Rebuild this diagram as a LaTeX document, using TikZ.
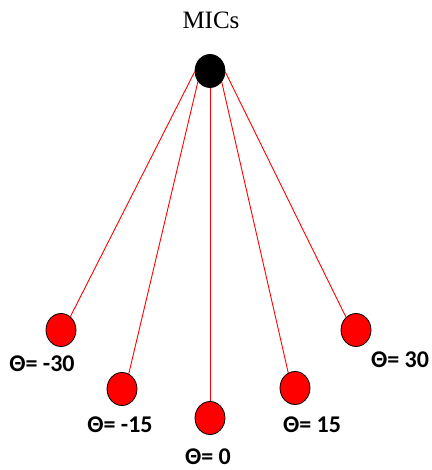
\documentclass[tikz,border=0pt]{standalone}
\usepackage{fontspec}
\setmainfont{Liberation Serif}
\newfontfamily\lblfont{Carlito}
\usetikzlibrary{shapes.geometric}

\begin{document}
\begin{tikzpicture}[
    x=1pt,y=-1pt,
    every node/.style={ellipse, draw=black, line width=0.8pt, minimum width=30pt, minimum height=33pt, inner sep=0pt},
    src/.style={fill=red},
    edge/.style={red, line width=0.9pt},
    lbl/.style={draw=none, minimum width=0pt, minimum height=0pt, font=\lblfont\bfseries\fontsize{24}{28}\selectfont}
]
    \useasboundingbox (0,0) rectangle (431,470);

    % microphone array
    \node[fill=black] (mic) at (210,71) {};
    \node[draw=none, minimum width=0pt, minimum height=0pt, font=\fontsize{25}{29}\selectfont] (title) at (211,20) {MICs};

    % sources
    \node[src] (sa) at (61,330) {};
    \node[src] (sb) at (122,389) {};
    \node[src] (sc) at (210,418) {};
    \node[src] (sd) at (295,388) {};
    \node[src] (se) at (356,330) {};

    \draw[edge] (mic.183)--(sa.55);
    \draw[edge] (mic.221)--(sb.66);
    \draw[edge] (mic.270)--(sc.90);
    \draw[edge] (mic.317)--(sd.114);
    \draw[edge] (mic.356)--(se.128);

    \node[lbl] (la) at (42,364) {Θ= -30};
    \node[lbl] (lb) at (120,425) {Θ= -15};
    \node[lbl] (lc) at (208,457) {Θ= 0};
    \node[lbl] (ld) at (312,425) {Θ= 15};
    \node[lbl] (le) at (400,360) {Θ= 30};
\end{tikzpicture}
\end{document}
